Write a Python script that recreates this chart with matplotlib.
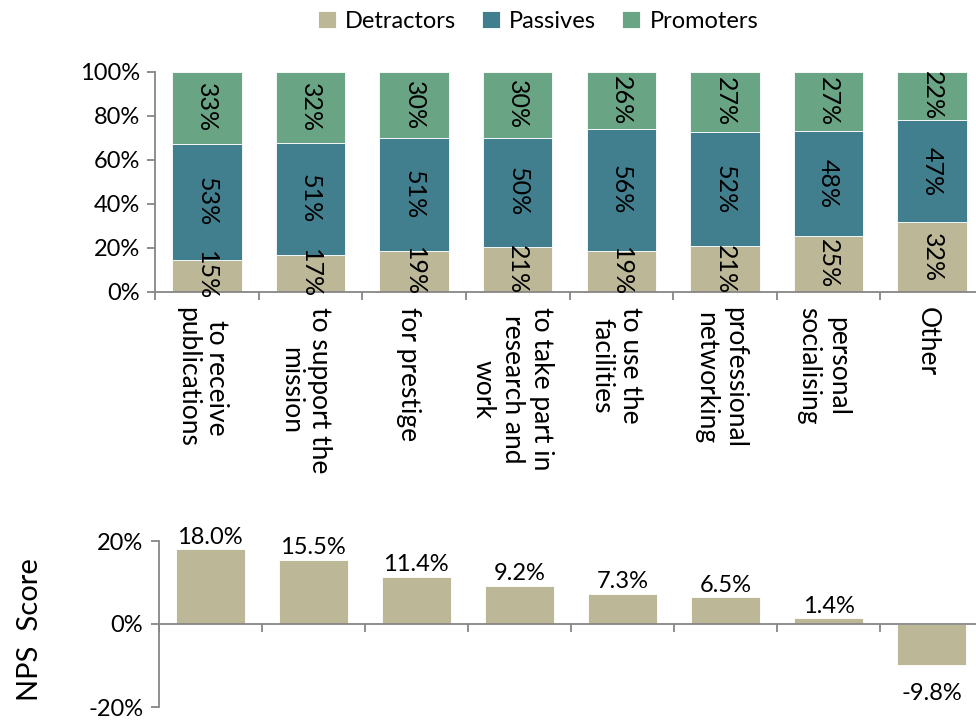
import matplotlib
matplotlib.use("Agg")
import matplotlib.pyplot as plt
import numpy as np

categories = ["to receive\npublications", "to support the\nmission", "for prestige",
              "to take part in\nresearch and\nwork", "to use the\nfacilities",
              "professional\nnetworking", "personal\nsocialising", "Other"]
detractors = [14.7, 16.8, 18.8, 20.6, 18.6, 20.7, 25.4, 31.6]
passives = [52.6, 50.9, 51.0, 49.6, 55.5, 52.1, 47.8, 46.6]
promoters = [32.7, 32.3, 30.2, 29.8, 25.9, 27.2, 26.8, 21.8]
nps = [18.0, 15.5, 11.4, 9.2, 7.3, 6.5, 1.4, -9.8]
series_names = ["Detractors", "Passives", "Promoters"]
colors = ["#BCB897", "#417F8F", "#69A585"]

plt.rcParams['font.family'] = ['Lato', 'DejaVu Sans']
FS = 17
GRAY = "#868686"

fig = plt.figure(figsize=(9.76, 7.2), dpi=100)
ax = fig.add_axes([155/976, 1-292/720, 829/976, 220/720])
x = np.arange(len(categories))
bw = 0.67
bottom = np.zeros(len(categories))
for vals, name, c in zip([detractors, passives, promoters], series_names, colors):
    v = np.array(vals)
    ax.bar(x, v, bw, bottom=bottom, color=c, label=name, edgecolor="white", linewidth=0.6)
    for xi, b, h in zip(x, bottom, v):
        ax.text(xi, b + h/2, f"{h:.0f}%", rotation=270, ha="center", va="center",
                fontsize=18, clip_on=False)
    bottom += v

ax.set_xlim(-0.5, len(categories)-0.5)
ax.set_ylim(0, 100)
ax.set_yticks([0, 20, 40, 60, 80, 100])
ax.set_yticklabels([f"{t}%" for t in [0, 20, 40, 60, 80, 100]], fontsize=FS)
ax.set_xticks(np.arange(len(categories)+1) - 0.5)
ax.set_xticklabels([])
for s in ["top", "right"]:
    ax.spines[s].set_visible(False)
for s in ["left", "bottom"]:
    ax.spines[s].set_color(GRAY)
    ax.spines[s].set_linewidth(1.3)
ax.tick_params(axis="both", colors=GRAY, length=6, width=1.3, labelcolor="black")
ax.tick_params(axis="y", pad=5)
for xi, lab in zip(x, categories):
    ax.text(xi - 0.05, -7, lab, rotation=270, ha="center", va="top",
            multialignment="center", fontsize=19, transform=ax.transData, clip_on=False,
            linespacing=1.2)

leg = ax.legend(loc="upper center", bbox_to_anchor=(538/976, 1.0), bbox_transform=fig.transFigure,
                ncol=3, frameon=False, fontsize=FS, handlelength=0.75, handleheight=0.75,
                handletextpad=0.4, columnspacing=1.1, borderaxespad=0.05)

ax2 = fig.add_axes([158.5/976, 1-707/720, 825/976, 166/720])
ax2.bar(x, nps, bw, color=colors[0], edgecolor="white", linewidth=0.6)
for xi, v in zip(x, nps):
    if v >= 0:
        ax2.annotate(f"{v:.1f}%", (xi, v), xytext=(0, 1), textcoords="offset points",
                     ha="center", va="bottom", fontsize=FS)
    else:
        ax2.annotate(f"{v:.1f}%", (xi, v), xytext=(0, -13), textcoords="offset points",
                     ha="center", va="top", fontsize=FS)
ax2.set_xlim(-0.5, len(categories)-0.5)
ax2.set_ylim(-20, 20)
ax2.set_yticks([-20, 0, 20])
ax2.set_yticklabels(["-20%", "0%", "20%"], fontsize=FS)
ax2.spines["bottom"].set_position(("data", 0))
for s in ["top", "right"]:
    ax2.spines[s].set_visible(False)
for s in ["left", "bottom"]:
    ax2.spines[s].set_color(GRAY)
    ax2.spines[s].set_linewidth(1.3)
ax2.set_xticks(np.arange(len(categories)+1) - 0.5)
ax2.set_xticklabels([])
ax2.tick_params(axis="both", colors=GRAY, length=6, width=1.3, labelcolor="black")
ax2.tick_params(axis="y", pad=5)
fig.text(30/976, 1-630/720, "NPS  Score", rotation=90, ha="center", va="center", fontsize=21)

fig.savefig("out.png", dpi=100)
